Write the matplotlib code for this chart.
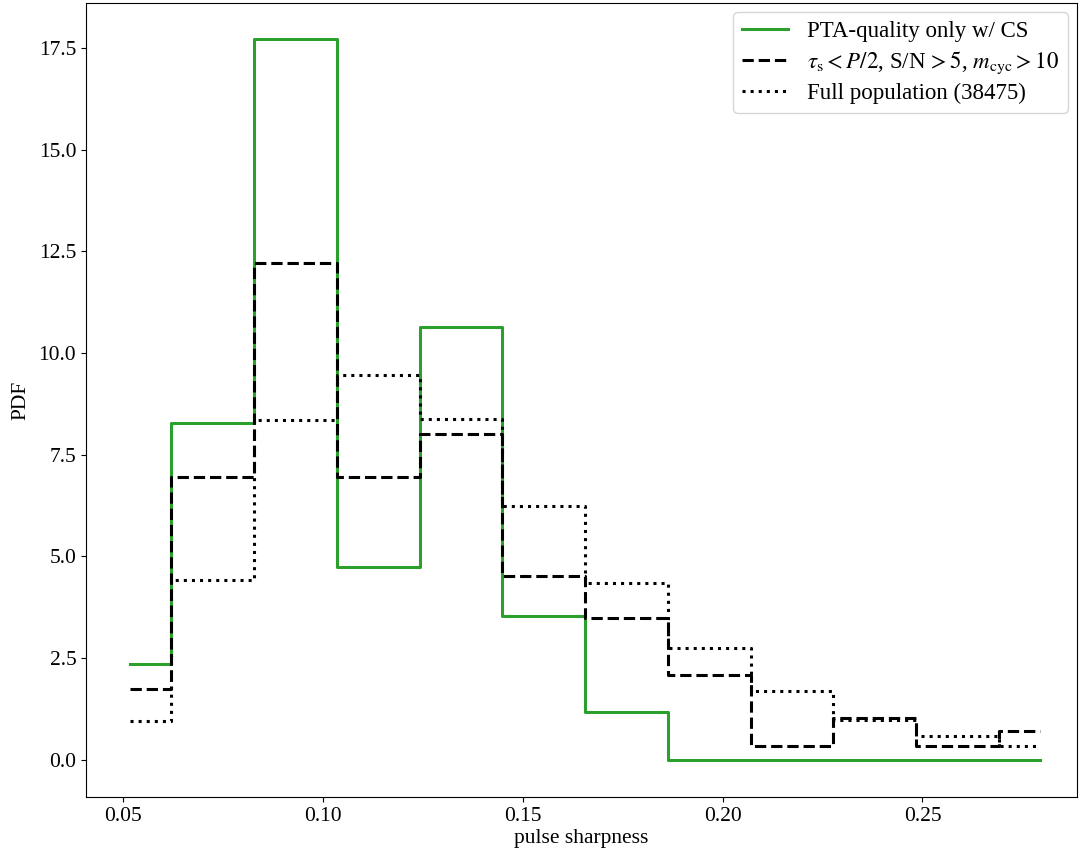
import matplotlib
matplotlib.use("Agg")
import matplotlib.pyplot as plt

plt.rcParams['font.family'] = ['Liberation Serif', 'DejaVu Serif']
plt.rcParams['mathtext.fontset'] = 'stix'
plt.rcParams['font.size'] = 15.5

centers = [0.0518, 0.0725, 0.0932, 0.1139, 0.1346, 0.1553, 0.1760,
           0.1967, 0.2174, 0.2381, 0.2588, 0.2795]
pta_cs = [2.36, 8.27, 17.72, 4.73, 10.63, 3.54, 1.18, 0.0, 0.0, 0.0, 0.0, 0.0]
cut_pop = [1.74, 6.96, 12.2, 6.96, 8.0, 4.53, 3.48, 2.09, 0.35, 1.04, 0.35, 0.70]
full_pop = [0.96, 4.42, 8.35, 9.45, 8.39, 6.23, 4.34, 2.75, 1.69, 0.98, 0.59, 0.34]

labels = ['PTA-quality only w/ CS',
          r'$\tau_{\rm s} < P/2$, S/N$\,>5$, $m_{\rm cyc} > 10$',
          'Full population (38475)']

fig = plt.figure(figsize=(10.79, 8.57), dpi=100)
ax = fig.add_axes([0.0797, 0.070, 0.9183, 0.9265])

ax.step(centers, pta_cs, where='mid', color='#2ca02c', lw=2.2, label=labels[0])
ax.step(centers, cut_pop, where='mid', color='black', lw=2.2, ls='--', label=labels[1])
ax.step(centers, full_pop, where='mid', color='black', lw=2.2, ls=':', label=labels[2])

ax.set_xlim(0.04083, 0.2886)
ax.set_ylim(-0.91, 18.6)
ax.set_xticks([0.05, 0.10, 0.15, 0.20, 0.25])
ax.set_xticklabels(['0.05', '0.10', '0.15', '0.20', '0.25'])
ax.set_yticks([0, 2.5, 5, 7.5, 10, 12.5, 15, 17.5])
ax.set_yticklabels(['0.0', '2.5', '5.0', '7.5', '10.0', '12.5', '15.0', '17.5'])
ax.set_xlabel('pulse sharpness', labelpad=2)
ax.set_ylabel('PDF', labelpad=6)
ax.legend(loc='upper right', fontsize=16.5, labelspacing=0.3,
          borderaxespad=0.4)

fig.savefig('out.png', dpi=100)
